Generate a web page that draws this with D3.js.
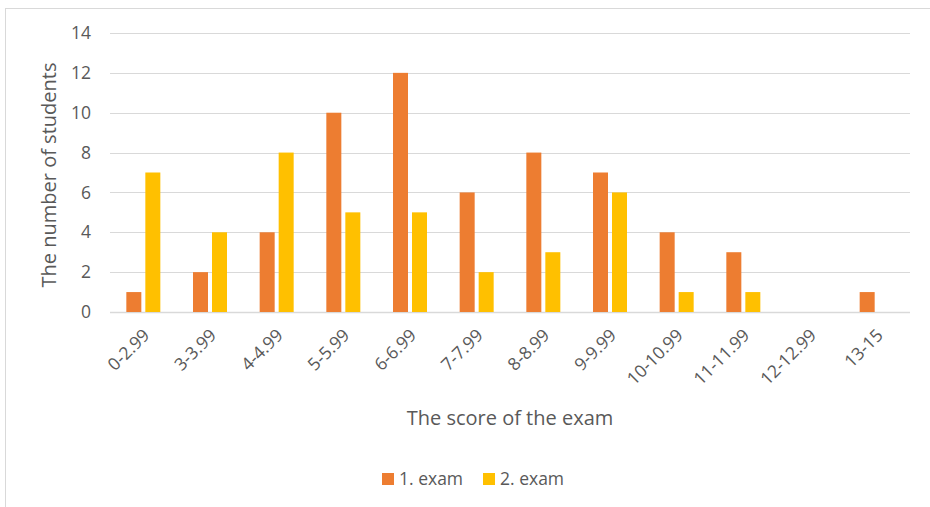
<!DOCTYPE html>
<html>
<head>
<meta charset="utf-8">
<script src="https://cdn.jsdelivr.net/npm/d3@7"></script>
<style>
  html, body { margin: 0; padding: 0; background: #fff; }
  svg { display: block; font-family: "Open Sans", Lato, "Liberation Sans", sans-serif; }
</style>
</head>
<body>
<svg id="chart" width="930" height="507"></svg>
<script>
// Score ranges and student counts per exam
const categories = ["0-2.99", "3-3.99", "4-4.99", "5-5.99", "6-6.99", "7-7.99",
                    "8-8.99", "9-9.99", "10-10.99", "11-11.99", "12-12.99", "13-15"];
const exam1 = [1, 2, 4, 10, 12, 6, 8, 7, 4, 3, 0, 1];
const exam2 = [7, 4, 8, 5, 5, 2, 3, 6, 1, 1, 0, 0];
const seriesNames = ["1. exam", "2. exam"];
const seriesColors = ["#ED7D31", "#FFC000"];
const yTicks = [0, 2, 4, 6, 8, 10, 12, 14];

const svg = d3.select("#chart");
const plot = { left: 110, right: 910, top: 33, bottom: 312 };
const font = "'Open Sans', Lato, sans-serif";
const textColor = "#595959";

// Chart frame
svg.append("rect")
  .attr("x", 5.5).attr("y", 8.5)
  .attr("width", 940).attr("height", 520)
  .attr("fill", "none").attr("stroke", "#d9d9d9").attr("stroke-width", 1);

const x = d3.scaleBand().domain(categories).range([plot.left, plot.right]).padding(0);
const y = d3.scaleLinear().domain([0, 14]).range([plot.bottom, plot.top]);

// Gridlines
svg.append("g")
  .selectAll("line")
  .data(yTicks)
  .join("line")
  .attr("x1", plot.left).attr("x2", plot.right)
  .attr("y1", d => Math.round(y(d)) + 0.5).attr("y2", d => Math.round(y(d)) + 0.5)
  .attr("stroke", "#d9d9d9")
  .attr("stroke-width", d => d === 0 ? 1.5 : 1);

// Y axis labels
const yAxis = d3.axisLeft(y).tickValues(yTicks).tickSize(0).tickPadding(0);
const gy = svg.append("g").attr("transform", `translate(${plot.left - 19},0)`).call(yAxis);
gy.select(".domain").remove();
gy.selectAll("text")
  .attr("fill", textColor).attr("font-size", 17.5)
  .attr("font-family", font);

// Bars
const barW = 15, gap = 4;
const series = [exam1, exam2];
series.forEach((vals, si) => {
  svg.append("g")
    .selectAll("rect")
    .data(categories.map((c, i) => ({ c, v: vals[i] })))
    .join("rect")
    .attr("x", d => x(d.c) + x.bandwidth() / 2 - barW - gap / 2 + si * (barW + gap))
    .attr("y", d => y(d.v))
    .attr("width", barW)
    .attr("height", d => y(0) - y(d.v))
    .attr("fill", seriesColors[si]);
});

// X axis labels, rotated
const xAxis = d3.axisBottom(x).tickSize(0).tickPadding(0);
const gx = svg.append("g").attr("transform", `translate(0,${plot.bottom})`).call(xAxis);
gx.select(".domain").remove();
gx.selectAll("text")
  .attr("fill", textColor).attr("font-size", 17.5)
  .attr("font-family", font)
  .attr("text-anchor", "end")
  .attr("dy", "0.35em")
  .attr("transform", "translate(3,20) rotate(-45)");

// Axis titles
svg.append("text")
  .attr("transform", `translate(56,175) rotate(-90)`)
  .attr("text-anchor", "middle")
  .attr("fill", textColor).attr("font-size", 20)
  .text("The number of students");

svg.append("text")
  .attr("x", 510).attr("y", 425)
  .attr("text-anchor", "middle")
  .attr("fill", textColor).attr("font-size", 20)
  .text("The score of the exam");

// Legend
const legend = svg.append("g");
const legendX = [382, 483];
seriesNames.forEach((name, i) => {
  legend.append("rect")
    .attr("x", legendX[i]).attr("y", 473)
    .attr("width", 12).attr("height", 12)
    .attr("fill", seriesColors[i]);
  legend.append("text")
    .attr("x", legendX[i] + 17).attr("y", 485)
    .attr("fill", textColor).attr("font-size", 17.5)
    .text(name);
});
</script>
</body>
</html>
